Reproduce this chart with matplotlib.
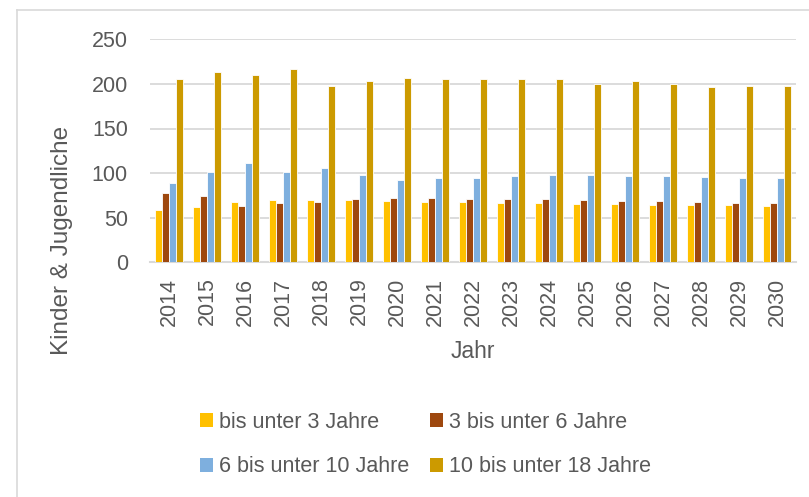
import matplotlib.pyplot as plt
import matplotlib as mpl
import numpy as np
from matplotlib.lines import Line2D
from matplotlib.patches import Patch

from matplotlib import rcParams
rcParams['font.family'] = 'sans-serif'
rcParams['font.sans-serif'] = ['Liberation Sans']

# data
years = ['2014', '2015', '2016', '2017', '2018', '2019', '2020', '2021', '2022',
         '2023', '2024', '2025', '2026', '2027', '2028', '2029', '2030']
under_3 = [59, 62, 68, 70, 70, 70, 69, 68, 68, 67, 66, 65, 65, 64, 64, 64, 63]
from_3_to_6 = [78, 74, 63, 67, 68, 71, 72, 72, 71, 71, 71, 70, 69, 69, 68, 67, 67]
from_6_to_10 = [89, 101, 111, 101, 106, 98, 92, 95, 95, 97, 98, 98, 97, 97, 96, 95, 95]
from_10_to_18 = [206, 213, 210, 217, 198, 203, 207, 205, 205, 205, 206, 200, 203, 200, 196, 198, 198]

labels = ['bis unter 3 Jahre', '3 bis unter 6 Jahre', '6 bis unter 10 Jahre', '10 bis unter 18 Jahre']
colors = ['#FFC000', '#9E480E', '#7EAFDE', '#CC9A00']
series = [under_3, from_3_to_6, from_6_to_10, from_10_to_18]

text_c = '#595959'
grid_c = '#D9D9D9'

fig = plt.figure(figsize=(8.09, 4.97), dpi=100)
ax = fig.add_axes([150/809, 1 - 262.3/497, 646/809, 223/497])

x = np.arange(len(years))
w = 0.18
for i, (vals, c) in enumerate(zip(series, colors)):
    ax.bar(x + (i - 1.5) * w, vals, width=w, color=c, edgecolor='white', linewidth=0.6, zorder=3)

ax.set_xlim(-0.5, len(years) - 0.5)
ax.set_ylim(0, 250)
ax.set_yticks([0, 50, 100, 150, 200, 250])
ax.set_xticks(x)
ax.set_xticklabels(years, rotation=90)
ax.tick_params(axis='both', length=0, labelsize=15.5, colors=text_c)
ax.tick_params(axis='y', pad=16)
ax.tick_params(axis='x', pad=11)
ax.grid(axis='y', color=grid_c, lw=1.3, zorder=0)
for s in ['top', 'right', 'left']:
    ax.spines[s].set_visible(False)
ax.spines['bottom'].set_color(grid_c)
ax.spines['bottom'].set_linewidth(1.5)

fig.text(62/809, 1 - 240/497, 'Kinder & Jugendliche', rotation=90, ha='center', va='center',
         fontsize=17.5, color=text_c)
fig.text(473/809, 1 - 352/497, 'Jahr', ha='center', va='center', fontsize=16.5, color=text_c)

# chart area border (left and top visible)
fig.add_artist(Line2D([17/809, 17/809], [0, 1 - 10/497], color=grid_c, lw=1.2))
fig.add_artist(Line2D([17/809, 1], [1 - 10/497, 1 - 10/497], color=grid_c, lw=1.2))

# legend is filled row by row in the reference
order = [0, 2, 1, 3]
handles = [Patch(facecolor=colors[i], edgecolor='none') for i in order]
leg = fig.legend(handles, [labels[i] for i in order], ncol=2, loc='upper left',
                 bbox_to_anchor=(189/809, 1 - 401/497),
                 frameon=False, fontsize=15.5, handlelength=0.6, handleheight=0.6,
                 handletextpad=0.3, columnspacing=0.95, labelspacing=1.1, borderpad=0)
for t in leg.get_texts():
    t.set_color(text_c)

plt.savefig('out.png', dpi=100)
